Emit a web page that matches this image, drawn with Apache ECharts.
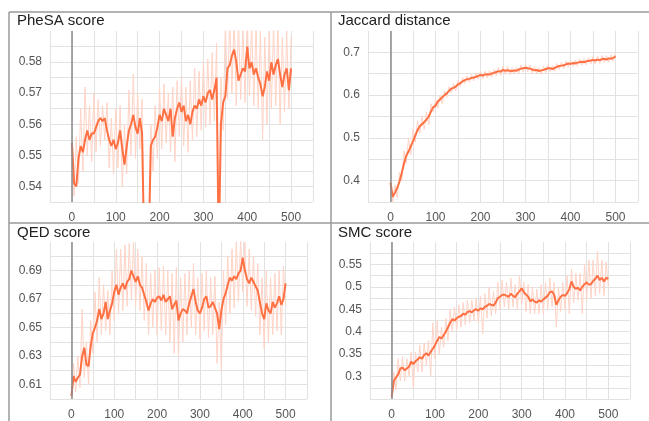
<!DOCTYPE html>
<html>
<head>
<meta charset="utf-8">
<script src="https://cdn.jsdelivr.net/npm/echarts@6/dist/echarts.min.js"></script>
<style>
    html, body, #main { width: 100%; height: 100%; margin: 0; background: #fff; }
</style>
</head>
<body>
<div id="main"></div>
<script>
// training steps, one reading every 5 steps
var steps = [];
for (var s = 0; s <= 500; s += 5) steps.push(s);

var xLabels = [0, 100, 200, 300, 400, 500];
var titles = ['PheSA score', 'Jaccard distance', 'QED score', 'SMC score'];

var phesaTicks = [0.54, 0.55, 0.56, 0.57, 0.58];
var jaccardTicks = [0.4, 0.5, 0.6, 0.7];
var qedTicks = [0.61, 0.63, 0.65, 0.67, 0.69];
var smcTicks = [0.3, 0.35, 0.4, 0.45, 0.5, 0.55];

var phesaSmooth = [0.554,0.541,0.540,0.549,0.553,0.551,0.555,0.558,0.555,0.557,
    0.557,0.559,0.561,0.562,0.561,0.562,0.558,0.555,0.553,0.555,
    0.552,0.554,0.558,0.552,0.547,0.553,0.558,0.560,0.563,0.559,
    0.557,0.562,0.557,0.520,0.520,0.520,0.553,0.555,0.556,0.559,
    0.563,0.561,0.565,0.563,0.561,0.565,0.556,0.562,0.565,0.567,
    0.564,0.566,0.561,0.563,0.560,0.564,0.566,0.565,0.568,0.566,
    0.569,0.567,0.570,0.571,0.568,0.571,0.575,0.520,0.560,0.567,
    0.569,0.578,0.579,0.582,0.584,0.580,0.574,0.576,0.578,0.577,
    0.585,0.578,0.580,0.576,0.578,0.575,0.573,0.569,0.572,0.577,
    0.574,0.580,0.576,0.579,0.581,0.576,0.572,0.576,0.578,0.571,0.578];
var phesaRaw = [0.548,0.537,0.556,0.541,0.565,0.545,0.572,0.550,0.566,0.548,
    0.570,0.551,0.568,0.553,0.566,0.555,0.567,0.546,0.562,0.544,
    0.565,0.546,0.566,0.540,0.560,0.544,0.571,0.550,0.576,0.549,
    0.570,0.552,0.568,0.520,0.520,0.520,0.560,0.545,0.566,0.549,
    0.572,0.552,0.573,0.554,0.570,0.551,0.572,0.548,0.574,0.556,
    0.575,0.553,0.572,0.551,0.574,0.555,0.578,0.556,0.577,0.558,
    0.580,0.559,0.581,0.560,0.583,0.561,0.586,0.520,0.575,0.558,
    0.592,0.568,0.595,0.570,0.595,0.566,0.594,0.568,0.592,0.567,
    0.595,0.569,0.593,0.566,0.592,0.565,0.590,0.555,0.588,0.560,
    0.590,0.565,0.592,0.566,0.593,0.560,0.588,0.564,0.590,0.565,0.588];

var jaccardSmooth = [0.395,0.362,0.372,0.383,0.398,0.418,0.440,0.458,0.468,0.480,
    0.492,0.505,0.518,0.527,0.532,0.537,0.543,0.550,0.562,0.572,
    0.575,0.585,0.590,0.595,0.600,0.604,0.610,0.615,0.617,0.620,
    0.625,0.628,0.632,0.635,0.637,0.638,0.640,0.641,0.643,0.645,
    0.647,0.646,0.648,0.649,0.648,0.651,0.652,0.654,0.656,0.655,
    0.659,0.657,0.658,0.657,0.656,0.658,0.657,0.660,0.662,0.663,
    0.664,0.663,0.662,0.660,0.658,0.659,0.656,0.658,0.659,0.661,
    0.663,0.663,0.661,0.664,0.666,0.668,0.669,0.670,0.672,0.674,
    0.673,0.675,0.674,0.676,0.677,0.678,0.677,0.679,0.680,0.681,
    0.682,0.681,0.683,0.682,0.684,0.685,0.683,0.686,0.685,0.687,0.691];
var jaccardRaw = [0.400,0.350,0.390,0.360,0.420,0.400,0.470,0.440,0.500,0.460,
    0.520,0.490,0.540,0.510,0.550,0.520,0.560,0.530,0.580,0.560,
    0.590,0.570,0.600,0.580,0.610,0.595,0.620,0.605,0.628,0.610,
    0.634,0.620,0.641,0.627,0.645,0.630,0.648,0.633,0.652,0.637,
    0.655,0.638,0.656,0.640,0.657,0.642,0.660,0.645,0.665,0.646,
    0.668,0.648,0.667,0.648,0.664,0.649,0.666,0.651,0.670,0.654,
    0.672,0.655,0.670,0.651,0.667,0.650,0.664,0.649,0.667,0.652,
    0.671,0.655,0.669,0.656,0.674,0.660,0.677,0.662,0.680,0.665,
    0.681,0.667,0.682,0.668,0.685,0.670,0.685,0.671,0.688,0.673,
    0.690,0.673,0.692,0.674,0.693,0.676,0.692,0.677,0.694,0.679,0.698];

var qedSmooth = [0.602,0.616,0.612,0.615,0.617,0.630,0.636,0.624,0.623,0.637,
    0.646,0.650,0.655,0.663,0.656,0.660,0.668,0.656,0.662,0.667,
    0.675,0.680,0.673,0.678,0.681,0.677,0.682,0.684,0.690,0.686,
    0.682,0.686,0.680,0.678,0.673,0.668,0.662,0.667,0.670,0.668,
    0.671,0.672,0.669,0.673,0.668,0.670,0.672,0.663,0.666,0.669,
    0.655,0.660,0.663,0.662,0.660,0.667,0.672,0.677,0.668,0.662,
    0.660,0.664,0.670,0.672,0.664,0.665,0.668,0.664,0.660,0.649,
    0.662,0.670,0.674,0.680,0.685,0.683,0.686,0.684,0.688,0.690,
    0.699,0.690,0.684,0.681,0.685,0.682,0.679,0.676,0.668,0.660,
    0.656,0.667,0.662,0.660,0.668,0.664,0.667,0.672,0.666,0.670,0.681];
var qedRaw = [0.600,0.625,0.605,0.630,0.608,0.663,0.615,0.640,0.610,0.655,
    0.632,0.675,0.640,0.685,0.645,0.680,0.648,0.676,0.645,0.690,
    0.655,0.705,0.660,0.705,0.662,0.708,0.665,0.709,0.670,0.710,
    0.665,0.705,0.662,0.700,0.655,0.695,0.645,0.688,0.650,0.690,
    0.645,0.692,0.648,0.693,0.645,0.690,0.640,0.688,0.632,0.692,
    0.630,0.685,0.640,0.688,0.645,0.690,0.650,0.695,0.645,0.685,
    0.642,0.688,0.648,0.690,0.643,0.685,0.645,0.686,0.625,0.668,
    0.620,0.690,0.652,0.700,0.660,0.705,0.664,0.710,0.668,0.712,
    0.675,0.710,0.665,0.705,0.662,0.700,0.658,0.695,0.645,0.685,
    0.635,0.690,0.640,0.685,0.645,0.688,0.648,0.690,0.645,0.693,0.665];

var smcSmooth = [0.255,0.290,0.298,0.305,0.318,0.320,0.314,0.318,0.322,0.333,
    0.328,0.334,0.338,0.343,0.340,0.348,0.352,0.347,0.355,0.362,
    0.370,0.380,0.388,0.385,0.392,0.400,0.410,0.420,0.428,0.425,
    0.430,0.433,0.435,0.440,0.438,0.444,0.446,0.443,0.448,0.450,
    0.447,0.452,0.450,0.455,0.458,0.462,0.460,0.458,0.465,0.475,
    0.478,0.482,0.483,0.480,0.478,0.485,0.480,0.477,0.485,0.490,
    0.497,0.488,0.483,0.478,0.468,0.472,0.467,0.465,0.470,0.467,
    0.472,0.476,0.480,0.488,0.490,0.482,0.460,0.470,0.478,0.482,
    0.480,0.486,0.495,0.512,0.500,0.496,0.498,0.492,0.500,0.506,
    0.510,0.505,0.506,0.513,0.518,0.525,0.515,0.520,0.512,0.520,0.518];
var smcRaw = [0.250,0.310,0.270,0.340,0.290,0.345,0.290,0.340,0.300,0.355,
    0.275,0.355,0.310,0.370,0.310,0.375,0.325,0.380,0.300,0.420,
    0.340,0.425,0.350,0.410,0.365,0.430,0.380,0.450,0.400,0.455,
    0.405,0.460,0.410,0.465,0.415,0.470,0.420,0.470,0.425,0.475,
    0.420,0.480,0.395,0.485,0.430,0.500,0.435,0.490,0.440,0.510,
    0.450,0.515,0.455,0.510,0.450,0.520,0.455,0.505,0.450,0.525,
    0.460,0.510,0.445,0.505,0.440,0.500,0.440,0.495,0.440,0.505,
    0.440,0.510,0.450,0.520,0.455,0.510,0.410,0.500,0.445,0.510,
    0.450,0.525,0.440,0.540,0.465,0.530,0.470,0.530,0.440,0.550,
    0.470,0.560,0.475,0.560,0.480,0.580,0.485,0.560,0.480,0.555,0.500];

var panels = [
    { title: titles[0], smooth: phesaSmooth, raw: phesaRaw, ticks: phesaTicks,
      min: 0.535, max: 0.59, interval: 0.005, grid: { left: 50, top: 31, width: 263, height: 171 },
      titlePos: { left: 17, top: 13 } },
    { title: titles[1], smooth: jaccardSmooth, raw: jaccardRaw, ticks: jaccardTicks,
      min: 0.35, max: 0.75, interval: 0.05, grid: { left: 368, top: 31, width: 270, height: 171 },
      titlePos: { left: 338, top: 13 } },
    { title: titles[2], smooth: qedSmooth, raw: qedRaw, ticks: qedTicks,
      min: 0.60, max: 0.71, interval: 0.01, grid: { left: 50, top: 242, width: 257, height: 163 },
      titlePos: { left: 17, top: 225 } },
    { title: titles[3], smooth: smcSmooth, raw: smcRaw, ticks: smcTicks,
      min: 0.25, max: 0.60, interval: 0.025, grid: { left: 370, top: 242, width: 260, height: 165 },
      titlePos: { left: 338, top: 225 } }
];

var FONT = 'Liberation Sans, Arial, sans-serif';
var ORANGE = '#ff7043';

function pairs(ys) {
    return steps.map(function (x, i) { return [x, ys[i]]; });
}

var option = {
    animation: false,
    backgroundColor: '#fff',
    title: [],
    grid: [],
    xAxis: [],
    yAxis: [],
    series: [],
    graphic: [
        { type: 'line', shape: { x1: 9, y1: 12, x2: 649, y2: 12 }, style: { stroke: '#9a9a9a', lineWidth: 1.5 } },
        { type: 'line', shape: { x1: 9, y1: 12, x2: 9, y2: 421 }, style: { stroke: '#9a9a9a', lineWidth: 1.5 } },
        { type: 'line', shape: { x1: 331, y1: 12, x2: 331, y2: 421 }, style: { stroke: '#9a9a9a', lineWidth: 1.5 } },
        { type: 'line', shape: { x1: 9, y1: 223, x2: 649, y2: 223 }, style: { stroke: '#9a9a9a', lineWidth: 1.5 } }
    ]
};

panels.forEach(function (p, i) {
    option.title.push({
        text: p.title, left: p.titlePos.left, top: p.titlePos.top, padding: 0,
        textStyle: { fontFamily: FONT, fontSize: 15, fontWeight: 'normal', color: '#212121' }
    });
    option.grid.push(p.grid);
    option.xAxis.push({
        type: 'value', gridIndex: i, min: -50, max: 550, interval: 50,
        axisLine: { show: false }, axisTick: { show: false },
        splitLine: { show: true, lineStyle: { color: '#e2e2e2', width: 1 } },
        axisLabel: {
            margin: 10, color: '#555', fontFamily: FONT, fontSize: 12,
            formatter: function (v) { return xLabels.indexOf(Math.round(v)) >= 0 ? String(Math.round(v)) : ''; }
        }
    });
    option.yAxis.push({
        type: 'value', gridIndex: i, min: p.min, max: p.max, interval: p.interval,
        axisLine: { show: false }, axisTick: { show: false },
        splitLine: { show: true, showMaxLine: false, lineStyle: { color: '#e2e2e2', width: 1 } },
        axisLabel: {
            margin: 8, color: '#555', fontFamily: FONT, fontSize: 12,
            formatter: function (v) {
                for (var k = 0; k < p.ticks.length; k++) {
                    if (Math.abs(p.ticks[k] - v) < 1e-6) return String(p.ticks[k]);
                }
                return '';
            }
        }
    });
    option.series.push({
        type: 'line', xAxisIndex: i, yAxisIndex: i, data: pairs(p.raw),
        showSymbol: false, silent: true, z: 2,
        lineStyle: { color: '#ffd3c6', width: 1 },
        markLine: {
            silent: true, symbol: 'none', label: { show: false },
            lineStyle: { color: '#8a8a8a', width: 1.5, type: 'solid' },
            data: [{ xAxis: 0 }]
        }
    });
    option.series.push({
        type: 'line', xAxisIndex: i, yAxisIndex: i, data: pairs(p.smooth),
        showSymbol: false, silent: true, z: 3,
        lineStyle: { color: ORANGE, width: 2 }
    });
});

var chart = echarts.init(document.getElementById('main'));
chart.setOption(option);
</script>
</body>
</html>
